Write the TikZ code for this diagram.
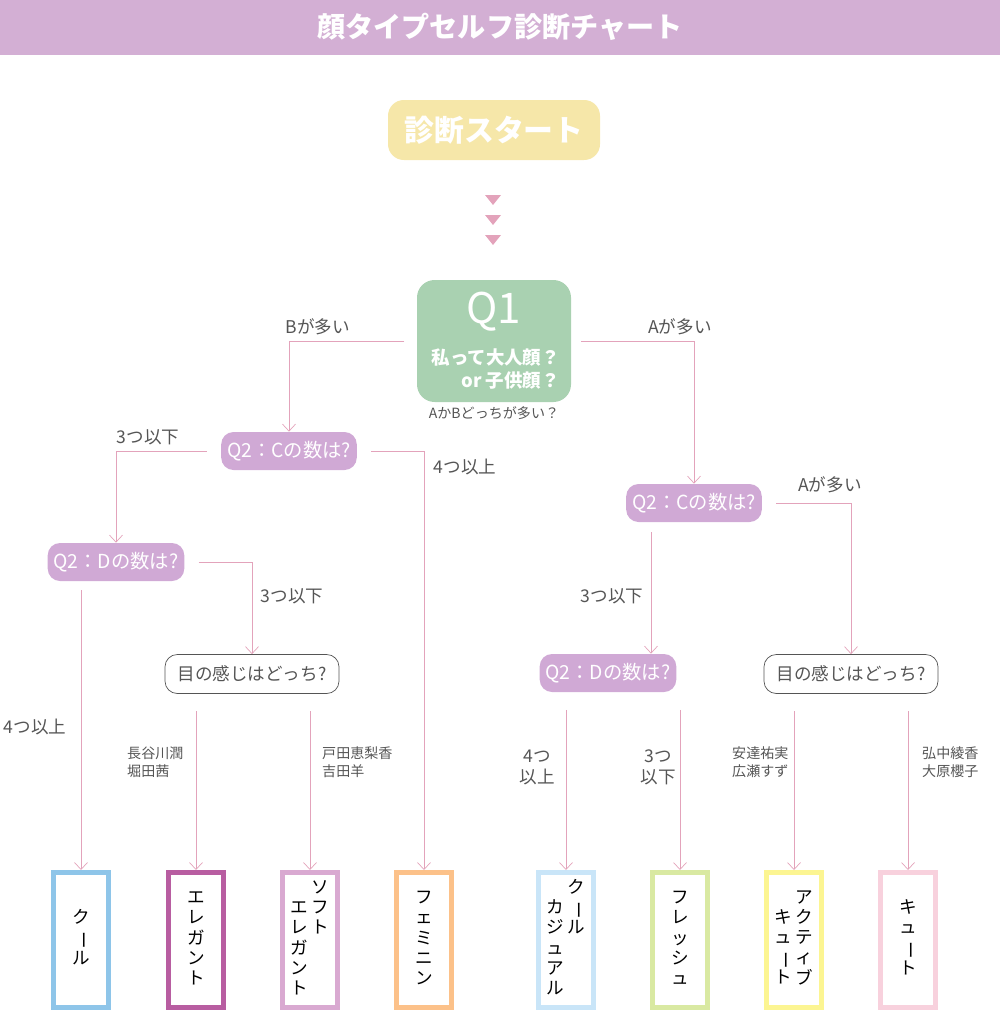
\documentclass[tikz,border=0pt]{standalone}
\usepackage{fontspec}
\setmainfont{Noto Sans CJK JP}
\usetikzlibrary{arrows.meta}
\definecolor{titlecol}{HTML}{D3AFD4}
\definecolor{startcol}{HTML}{F6E7A9}
\definecolor{qonecol}{HTML}{A9D1B1}
\definecolor{qcol}{HTML}{D0A9D5}
\definecolor{linecol}{HTML}{E3A3BB}
\definecolor{txtcol}{HTML}{555555}
\definecolor{coolcol}{HTML}{8EC5E9}
\definecolor{elecol}{HTML}{B85DA1}
\definecolor{softcol}{HTML}{D9A9D1}
\definecolor{femcol}{HTML}{FCC189}
\definecolor{casualcol}{HTML}{C9E5F8}
\definecolor{freshcol}{HTML}{D9E9A2}
\definecolor{activecol}{HTML}{FCF592}
\definecolor{cutecol}{HTML}{F8D1DD}
\newcommand\tatecol[1]{\begin{tabular}[t]{@{}c@{}}#1\end{tabular}}
\newcommand\vbar{\rotatebox[origin=c]{-90}{ー}}
\tikzset{
  qbox/.style={fill=qcol,rounded corners=7pt,text=white,minimum width=26mm,minimum height=7.6mm,font=\fontsize{11}{12}\selectfont},
  eyebox/.style={draw=txtcol,fill=white,rounded corners=7pt,text=txtcol,minimum width=34.8mm,minimum height=7.8mm,font=\fontsize{10}{12}\selectfont},
  result/.style={draw=#1,line width=1mm,fill=white,minimum width=11mm,minimum height=27mm,text=black,font=\fontsize{10}{11.5}\selectfont},
  lbl/.style={text=txtcol,font=\fontsize{10}{12}\selectfont},
  namelbl/.style={text=txtcol,align=left,font=\fontsize{8}{10}\selectfont,anchor=west},
  flow/.style={draw=linecol,thin,-{Straight Barb[length=1.4mm,width=2.6mm]}},
  tri/.style={fill=linecol,draw=none}
}
\begin{document}
\begin{tikzpicture}[x=0.2mm,y=-0.2mm]
\useasboundingbox (0,0) rectangle (1000,1023);
\fill[titlecol] (0,0) rectangle (1000,55);
\node[text=white,font=\fontsize{16}{20}\selectfont\bfseries] (title) at (500,27) {顔タイプセルフ診断チャート};

\node[fill=startcol,rounded corners=9pt,text=white,minimum width=42.4mm,minimum height=12mm,font=\fontsize{17}{20}\selectfont\bfseries] (start) at (494,130) {診断スタート};
\foreach \y in {200,220,240}
  \fill[tri] (485,\y-5) -- (501,\y-5) -- (493,\y+5) -- cycle;

\node[fill=qonecol,rounded corners=10pt,minimum width=30.8mm,minimum height=24.4mm] (q1) at (494,341) {};
\node[text=white,font=\fontsize{24}{26}\selectfont] (q1t) at (494,312) {Q1};
\node[text=white,font=\fontsize{10.5}{13}\selectfont\bfseries,align=right,anchor=north east] (q1q) at (566,343) {私って大人顔？\\or 子供顔？};
\node[lbl,font=\fontsize{8}{10}\selectfont] (q1s) at (494,413) {AかBどっちが多い？};

\node[qbox] (qcl) at (289,451) {Q2：Cの数は?};
\node[qbox] (qcr) at (694,503) {Q2：Cの数は?};
\node[qbox] (qdl) at (116,562) {Q2：Dの数は?};
\node[qbox] (qdr) at (608,673) {Q2：Dの数は?};
\node[eyebox] (eyel) at (252,674) {目の感じはどっち?};
\node[eyebox] (eyer) at (851,674) {目の感じはどっち?};

\node[result=coolcol] (cool) at (81,940) {\tatecol{ク\\\vbar\\ル}};
\node[result=elecol] (ele) at (196,940) {\tatecol{エ\\レ\\ガ\\ン\\ト}};
\node[result=softcol] (soft) at (310,940) {\tatecol{\\エ\\レ\\ガ\\ン\\ト}\,\tatecol{ソ\\フ\\ト}};
\node[result=femcol] (fem) at (424,940) {\tatecol{フ\\ェ\\ミ\\ニ\\ン}};
\node[result=casualcol] (casual) at (566,940) {\tatecol{\\カ\\ジ\\ュ\\ア\\ル}\,\tatecol{ク\\\vbar\\ル}};
\node[result=freshcol] (fresh) at (680,940) {\tatecol{フ\\レ\\ッ\\シ\\ュ}};
\node[result=activecol] (active) at (794,940) {\tatecol{\\キ\\ュ\\\vbar\\ト}\,\tatecol{ア\\ク\\テ\\ィ\\ブ}};
\node[result=cutecol] (cute) at (908,940) {\tatecol{キ\\ュ\\\vbar\\ト}};

% branches
\coordinate (qdlout) at (81,590);
\coordinate (qcrout) at (651,532);
\draw[flow] ([xshift=-7pt]q1.west) -| (qcl.north);
\node[lbl] (lb1) at (318,327) {Bが多い};
\draw[flow] ([xshift=2mm]q1.east) -| (qcr.north);
\node[lbl] (la1) at (680,327) {Aが多い};
\draw[flow] ([xshift=-8pt]qcl.west) -| (qdl.north);
\node[lbl] (l31) at (148,437) {3つ以下};
\draw[flow] ([xshift=8pt]qcl.east) -| (fem.north);
\node[lbl] (l41) at (465,467) {4つ以上};
\draw[flow] ([xshift=8pt]qcr.east) -| (eyer.north);
\node[lbl] (la2) at (830,485) {Aが多い};
\draw[flow] (qcrout) -- (qcrout |- qdr.north);
\node[lbl] (l32) at (612,596) {3つ以下};
\draw[flow] ([xshift=8pt]qdl.east) -| (eyel.north);
\node[lbl] (l33) at (292,596) {3つ以下};
\draw[flow] (qdlout) -- (cool.north);
\node[lbl] (l42) at (35,727) {4つ以上};

\draw[flow] ([yshift=-10pt]eyel.south -| ele.north) -- (ele.north);
\node[namelbl] (n1) at (121,762) {長谷川潤\\堀田茜};
\draw[flow] ([yshift=-10pt]eyel.south -| soft.north) -- (soft.north);
\node[namelbl] (n2) at (316,762) {戸田恵梨香\\吉田羊};
\draw[flow] ([yshift=-10pt]qdr.south -| casual.north) -- (casual.north);
\node[lbl,align=center] (l43) at (537,767) {4つ\\以上};
\draw[flow] ([yshift=-10pt]qdr.south -| fresh.north) -- (fresh.north);
\node[lbl,align=center] (l34) at (658,767) {3つ\\以下};
\draw[flow] ([yshift=-10pt]eyer.south -| active.north) -- (active.north);
\node[namelbl] (n3) at (726,762) {安達祐実\\広瀬すず};
\draw[flow] ([yshift=-10pt]eyer.south -| cute.north) -- (cute.north);
\node[namelbl] (n4) at (916,762) {弘中綾香\\大原櫻子};
\end{tikzpicture}
\end{document}
